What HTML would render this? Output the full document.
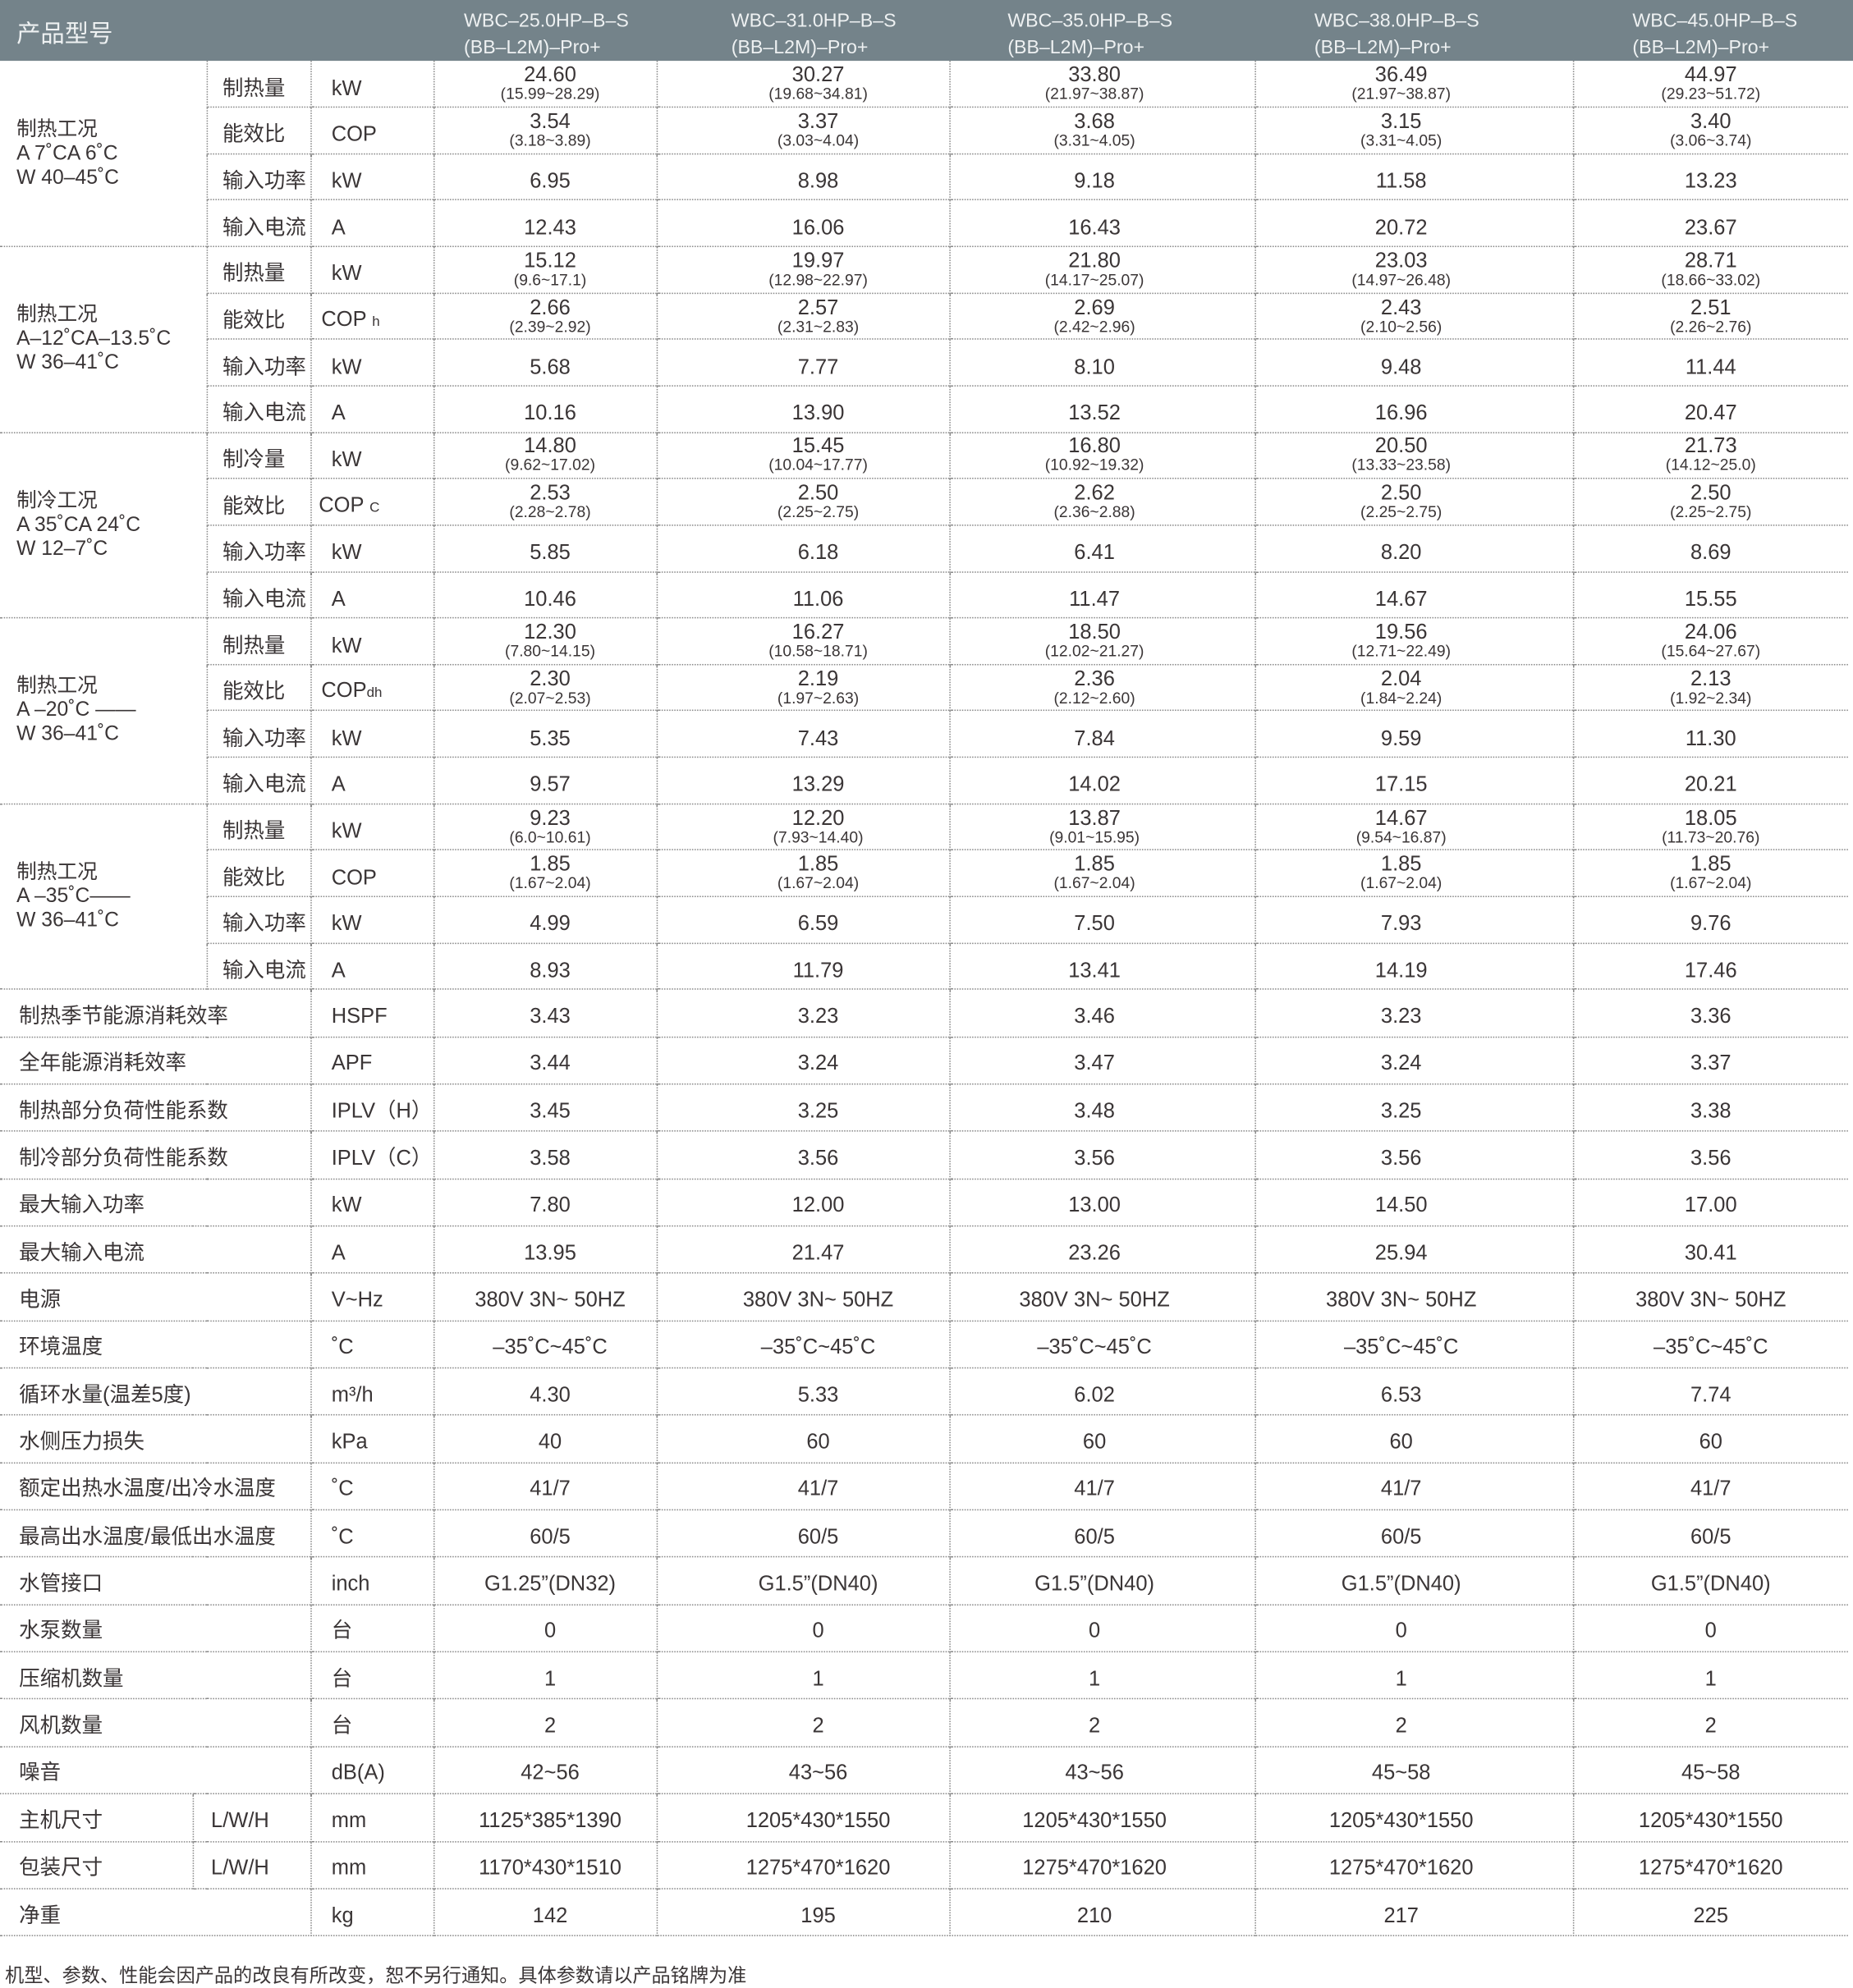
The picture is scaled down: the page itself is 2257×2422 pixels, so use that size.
<!DOCTYPE html>
<html><head><meta charset="utf-8">
<style>
html,body{margin:0;padding:0;background:#fff;}
body{width:2257px;height:2421px;overflow:hidden;position:relative;}
#wrap{position:absolute;left:0;top:0;width:1462px;height:1568px;transform:scale(1.5438);transform-origin:0 0;font-family:"Liberation Sans","Noto Sans CJK SC",sans-serif;color:#3a3536;}
.hd{position:absolute;left:0;top:0;width:1462px;height:48px;background:#74838a;color:#eef1f2;}
.hd .t{position:absolute;left:13px;top:12px;font-size:19px;}
.hd .m{position:absolute;top:6px;font-size:15px;line-height:21px;width:200px;}
table{position:absolute;left:0;top:48px;border-collapse:collapse;table-layout:fixed;width:1458px;}
td{padding:0;font-size:16.5px;text-align:center;vertical-align:middle;border-top:1px dotted #8a8a8a;border-left:1px dotted #8a8a8a;white-space:nowrap;overflow:visible;line-height:17px;}
tr:first-child td{border-top:none;}
td.f{border-left:none;}
td.g{text-align:left;padding-left:13px;font-size:16px;line-height:19px;}
td.l{text-align:left;padding-left:12px;}
td.u{text-align:left;padding-left:16px;}
td.s{text-align:left;padding-left:15px;}
small{display:block;font-size:12.5px;line-height:13px;}
tr.a{height:36.65px;}
tr.a td.p{padding-top:8px;}
tr.b{height:37.35px;}
tr.b td{padding-top:6px;}
td:nth-child(n){}
tr td:nth-last-child(5){padding-left:8px;}
tr td:nth-last-child(4){padding-left:24px;}
tr td:nth-last-child(3){padding-right:12px;}
tr td:nth-last-child(2){padding-right:20px;}
.ft{position:absolute;left:4px;top:1548px;font-size:15px;}
sub{font-size:11px;vertical-align:baseline;}
</style></head><body><div id="wrap">
<div class="hd"><div class="t">产品型号</div>
<div class="m" style="left:366px">WBC–25.0HP–B–S<br>(BB–L2M)–Pro+</div>
<div class="m" style="left:577px">WBC–31.0HP–B–S<br>(BB–L2M)–Pro+</div>
<div class="m" style="left:795px">WBC–35.0HP–B–S<br>(BB–L2M)–Pro+</div>
<div class="m" style="left:1037px">WBC–38.0HP–B–S<br>(BB–L2M)–Pro+</div>
<div class="m" style="left:1288px">WBC–45.0HP–B–S<br>(BB–L2M)–Pro+</div>
</div>
<table>
<colgroup><col style="width:152px"><col style="width:11px"><col style="width:82px"><col style="width:97px"><col style="width:176px"><col style="width:231px"><col style="width:241px"><col style="width:251px"><col style="width:217px"></colgroup>
<tr class="a"><td class="f g" colspan="2" rowspan="4">制热工况<br>A 7˚CA 6˚C<br>W 40–45˚C</td><td class="l p">制热量</td><td class="u p">kW</td><td>24.60<small>(15.99~28.29)</small></td><td>30.27<small>(19.68~34.81)</small></td><td>33.80<small>(21.97~38.87)</small></td><td>36.49<small>(21.97~38.87)</small></td><td>44.97<small>(29.23~51.72)</small></td></tr>
<tr class="a"><td class="l p">能效比</td><td class="u p">COP</td><td>3.54<small>(3.18~3.89)</small></td><td>3.37<small>(3.03~4.04)</small></td><td>3.68<small>(3.31~4.05)</small></td><td>3.15<small>(3.31~4.05)</small></td><td>3.40<small>(3.06~3.74)</small></td></tr>
<tr class="a"><td class="l p">输入功率</td><td class="u p">kW</td><td class="p">6.95</td><td class="p">8.98</td><td class="p">9.18</td><td class="p">11.58</td><td class="p">13.23</td></tr>
<tr class="a"><td class="l p">输入电流</td><td class="u p">A</td><td class="p">12.43</td><td class="p">16.06</td><td class="p">16.43</td><td class="p">20.72</td><td class="p">23.67</td></tr>

<tr class="a"><td class="f g" colspan="2" rowspan="4">制热工况<br>A–12˚CA–13.5˚C<br>W 36–41˚C</td><td class="l p">制热量</td><td class="u p">kW</td><td>15.12<small>(9.6~17.1)</small></td><td>19.97<small>(12.98~22.97)</small></td><td>21.80<small>(14.17~25.07)</small></td><td>23.03<small>(14.97~26.48)</small></td><td>28.71<small>(18.66~33.02)</small></td></tr>
<tr class="a"><td class="l p">能效比</td><td class="u p" style="padding-left:8px">COP <sub>h</sub></td><td>2.66<small>(2.39~2.92)</small></td><td>2.57<small>(2.31~2.83)</small></td><td>2.69<small>(2.42~2.96)</small></td><td>2.43<small>(2.10~2.56)</small></td><td>2.51<small>(2.26~2.76)</small></td></tr>
<tr class="a"><td class="l p">输入功率</td><td class="u p">kW</td><td class="p">5.68</td><td class="p">7.77</td><td class="p">8.10</td><td class="p">9.48</td><td class="p">11.44</td></tr>
<tr class="a"><td class="l p">输入电流</td><td class="u p">A</td><td class="p">10.16</td><td class="p">13.90</td><td class="p">13.52</td><td class="p">16.96</td><td class="p">20.47</td></tr>

<tr class="a"><td class="f g" colspan="2" rowspan="4">制冷工况<br>A 35˚CA 24˚C<br>W 12–7˚C</td><td class="l p">制冷量</td><td class="u p">kW</td><td>14.80<small>(9.62~17.02)</small></td><td>15.45<small>(10.04~17.77)</small></td><td>16.80<small>(10.92~19.32)</small></td><td>20.50<small>(13.33~23.58)</small></td><td>21.73<small>(14.12~25.0)</small></td></tr>
<tr class="a"><td class="l p">能效比</td><td class="u p" style="padding-left:6px">COP <sub>C</sub></td><td>2.53<small>(2.28~2.78)</small></td><td>2.50<small>(2.25~2.75)</small></td><td>2.62<small>(2.36~2.88)</small></td><td>2.50<small>(2.25~2.75)</small></td><td>2.50<small>(2.25~2.75)</small></td></tr>
<tr class="a"><td class="l p">输入功率</td><td class="u p">kW</td><td class="p">5.85</td><td class="p">6.18</td><td class="p">6.41</td><td class="p">8.20</td><td class="p">8.69</td></tr>
<tr class="a"><td class="l p">输入电流</td><td class="u p">A</td><td class="p">10.46</td><td class="p">11.06</td><td class="p">11.47</td><td class="p">14.67</td><td class="p">15.55</td></tr>

<tr class="a"><td class="f g" colspan="2" rowspan="4">制热工况<br>A –20˚C ——<br>W 36–41˚C</td><td class="l p">制热量</td><td class="u p">kW</td><td>12.30<small>(7.80~14.15)</small></td><td>16.27<small>(10.58~18.71)</small></td><td>18.50<small>(12.02~21.27)</small></td><td>19.56<small>(12.71~22.49)</small></td><td>24.06<small>(15.64~27.67)</small></td></tr>
<tr class="a"><td class="l p">能效比</td><td class="u p" style="padding-left:8px">COP<sub>dh</sub></td><td>2.30<small>(2.07~2.53)</small></td><td>2.19<small>(1.97~2.63)</small></td><td>2.36<small>(2.12~2.60)</small></td><td>2.04<small>(1.84~2.24)</small></td><td>2.13<small>(1.92~2.34)</small></td></tr>
<tr class="a"><td class="l p">输入功率</td><td class="u p">kW</td><td class="p">5.35</td><td class="p">7.43</td><td class="p">7.84</td><td class="p">9.59</td><td class="p">11.30</td></tr>
<tr class="a"><td class="l p">输入电流</td><td class="u p">A</td><td class="p">9.57</td><td class="p">13.29</td><td class="p">14.02</td><td class="p">17.15</td><td class="p">20.21</td></tr>

<tr class="a"><td class="f g" colspan="2" rowspan="4">制热工况<br>A –35˚C——<br>W 36–41˚C</td><td class="l p">制热量</td><td class="u p">kW</td><td>9.23<small>(6.0~10.61)</small></td><td>12.20<small>(7.93~14.40)</small></td><td>13.87<small>(9.01~15.95)</small></td><td>14.67<small>(9.54~16.87)</small></td><td>18.05<small>(11.73~20.76)</small></td></tr>
<tr class="a"><td class="l p">能效比</td><td class="u p">COP</td><td>1.85<small>(1.67~2.04)</small></td><td>1.85<small>(1.67~2.04)</small></td><td>1.85<small>(1.67~2.04)</small></td><td>1.85<small>(1.67~2.04)</small></td><td>1.85<small>(1.67~2.04)</small></td></tr>
<tr class="a"><td class="l p">输入功率</td><td class="u p">kW</td><td class="p">4.99</td><td class="p">6.59</td><td class="p">7.50</td><td class="p">7.93</td><td class="p">9.76</td></tr>
<tr class="a"><td class="l p">输入电流</td><td class="u p">A</td><td class="p">8.93</td><td class="p">11.79</td><td class="p">13.41</td><td class="p">14.19</td><td class="p">17.46</td></tr>

<tr class="b"><td class="f s" colspan="3">制热季节能源消耗效率</td><td class="u">HSPF</td><td>3.43</td><td>3.23</td><td>3.46</td><td>3.23</td><td>3.36</td></tr>
<tr class="b"><td class="f s" colspan="3">全年能源消耗效率</td><td class="u">APF</td><td>3.44</td><td>3.24</td><td>3.47</td><td>3.24</td><td>3.37</td></tr>
<tr class="b"><td class="f s" colspan="3">制热部分负荷性能系数</td><td class="u">IPLV（H）</td><td>3.45</td><td>3.25</td><td>3.48</td><td>3.25</td><td>3.38</td></tr>
<tr class="b"><td class="f s" colspan="3">制冷部分负荷性能系数</td><td class="u">IPLV（C）</td><td>3.58</td><td>3.56</td><td>3.56</td><td>3.56</td><td>3.56</td></tr>
<tr class="b"><td class="f s" colspan="3">最大输入功率</td><td class="u">kW</td><td>7.80</td><td>12.00</td><td>13.00</td><td>14.50</td><td>17.00</td></tr>
<tr class="b"><td class="f s" colspan="3">最大输入电流</td><td class="u">A</td><td>13.95</td><td>21.47</td><td>23.26</td><td>25.94</td><td>30.41</td></tr>
<tr class="b"><td class="f s" colspan="3">电源</td><td class="u">V~Hz</td><td>380V 3N~ 50HZ</td><td>380V 3N~ 50HZ</td><td>380V 3N~ 50HZ</td><td>380V 3N~ 50HZ</td><td>380V 3N~ 50HZ</td></tr>
<tr class="b"><td class="f s" colspan="3">环境温度</td><td class="u">˚C</td><td>–35˚C~45˚C</td><td>–35˚C~45˚C</td><td>–35˚C~45˚C</td><td>–35˚C~45˚C</td><td>–35˚C~45˚C</td></tr>
<tr class="b"><td class="f s" colspan="3">循环水量(温差5度)</td><td class="u">m³/h</td><td>4.30</td><td>5.33</td><td>6.02</td><td>6.53</td><td>7.74</td></tr>
<tr class="b"><td class="f s" colspan="3">水侧压力损失</td><td class="u">kPa</td><td>40</td><td>60</td><td>60</td><td>60</td><td>60</td></tr>
<tr class="b"><td class="f s" colspan="3">额定出热水温度/出冷水温度</td><td class="u">˚C</td><td>41/7</td><td>41/7</td><td>41/7</td><td>41/7</td><td>41/7</td></tr>
<tr class="b"><td class="f s" colspan="3">最高出水温度/最低出水温度</td><td class="u">˚C</td><td>60/5</td><td>60/5</td><td>60/5</td><td>60/5</td><td>60/5</td></tr>
<tr class="b"><td class="f s" colspan="3">水管接口</td><td class="u">inch</td><td>G1.25”(DN32)</td><td>G1.5”(DN40)</td><td>G1.5”(DN40)</td><td>G1.5”(DN40)</td><td>G1.5”(DN40)</td></tr>
<tr class="b"><td class="f s" colspan="3">水泵数量</td><td class="u">台</td><td>0</td><td>0</td><td>0</td><td>0</td><td>0</td></tr>
<tr class="b"><td class="f s" colspan="3">压缩机数量</td><td class="u">台</td><td>1</td><td>1</td><td>1</td><td>1</td><td>1</td></tr>
<tr class="b"><td class="f s" colspan="3">风机数量</td><td class="u">台</td><td>2</td><td>2</td><td>2</td><td>2</td><td>2</td></tr>
<tr class="b"><td class="f s" colspan="3">噪音</td><td class="u">dB(A)</td><td>42~56</td><td>43~56</td><td>43~56</td><td>45~58</td><td>45~58</td></tr>
<tr class="b"><td class="f s">主机尺寸</td><td class="l" colspan="2" style="padding-left:14px">L/W/H</td><td class="u">mm</td><td>1125*385*1390</td><td>1205*430*1550</td><td>1205*430*1550</td><td>1205*430*1550</td><td>1205*430*1550</td></tr>
<tr class="b"><td class="f s">包装尺寸</td><td class="l" colspan="2" style="padding-left:14px">L/W/H</td><td class="u">mm</td><td>1170*430*1510</td><td>1275*470*1620</td><td>1275*470*1620</td><td>1275*470*1620</td><td>1275*470*1620</td></tr>
<tr class="b"><td class="f s" colspan="3">净重</td><td class="u">kg</td><td>142</td><td>195</td><td>210</td><td>217</td><td>225</td></tr>
</table>
<div style="position:absolute;left:0;top:1527px;width:1458px;border-top:1px dotted #8a8a8a;"></div>
<div class="ft">机型、参数、性能会因产品的改良有所改变，恕不另行通知。具体参数请以产品铭牌为准</div>
</div></body></html>
